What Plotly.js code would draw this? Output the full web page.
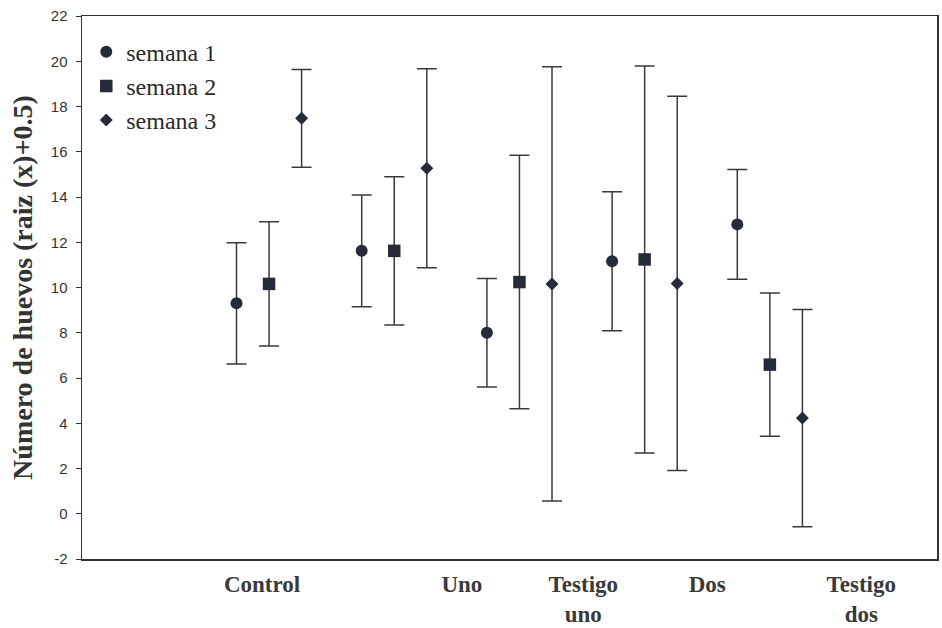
<!DOCTYPE html>
<html>
<head>
<meta charset="utf-8">
<script src="https://cdn.plot.ly/plotly-3.0.1.min.js"></script>
<style>
  html, body { margin: 0; padding: 0; background: #ffffff; }
  #chart { width: 942px; height: 628px; }
</style>
</head>
<body>
<div id="chart"></div>
<script>
// Treatments (one group of three weeks each)
const groups = [1, 2, 3, 4, 5];

// Mean number of eggs, sqrt(x)+0.5 transform, per week
const semana1 = [9.3, 11.62, 8.0, 11.16, 12.79];
const semana2 = [10.16, 11.62, 10.24, 11.24, 6.59];
const semana3 = [17.48, 15.27, 10.16, 10.18, 4.23];

// Error half-widths per week
const err1 = [2.68, 2.47, 2.4, 3.07, 2.43];
const err2 = [2.75, 3.28, 5.6, 8.55, 3.17];
const err3 = [2.16, 4.4, 9.6, 8.27, 4.8];

// Category labels along the bottom
const tickLabels = ['Control', 'Uno', 'Testigo<br>uno', 'Dos', 'Testigo<br>dos'];
const tickPositions = [0.944, 2.54, 3.51, 4.5, 5.73];

// Y axis ticks, written with a plain hyphen for negatives
const yTickValues = [-2, 0, 2, 4, 6, 8, 10, 12, 14, 16, 18, 20, 22];
const yTickText = ['-2', '0', '2', '4', '6', '8', '10', '12', '14', '16', '18', '20', '22'];

const markerColor = '#262b3a';
const barColor = '#3a3a3a';
const offset = 0.26;

function series(name, values, errs, shift, symbol, size) {
  return {
    type: 'scatter',
    mode: 'markers',
    name: name,
    x: groups.map(g => g + shift),
    y: values,
    marker: { symbol: symbol, size: size, color: markerColor },
    error_y: {
      type: 'data', array: errs, visible: true,
      color: barColor, thickness: 1.5, width: 10
    },
    cliponaxis: false
  };
}

const data = [
  series('semana 1', semana1, err1, -offset, 'circle', 12),
  series('semana 2', semana2, err2, 0, 'square', 12.5),
  series('semana 3', semana3, err3, offset, 'diamond', 10)
];

const layout = {
  width: 942,
  height: 628,
  margin: { l: 82, r: 5, t: 16, b: 69 },
  paper_bgcolor: '#ffffff',
  plot_bgcolor: '#ffffff',
  showlegend: true,
  legend: {
    x: 0.005, xanchor: 'left',
    y: 0.975, yanchor: 'top',
    bgcolor: 'rgba(0,0,0,0)',
    font: { family: 'Liberation Serif, Times New Roman, serif', size: 24, color: '#2a2a2a' },
    itemclick: false
  },
  xaxis: {
    range: [-0.494, 6.335],
    tickmode: 'array',
    tickvals: tickPositions,
    ticktext: tickLabels,
    ticks: '',
    showgrid: false,
    zeroline: false,
    showline: true,
    mirror: true,
    linecolor: '#333333',
    linewidth: 1.5,
    ticklabelstandoff: 4,
    tickfont: { family: 'Liberation Serif, Times New Roman, serif', size: 23, color: '#3a3a3a', weight: 'bold' }
  },
  yaxis: {
    range: [-2, 22],
    tickmode: 'array',
    tickvals: yTickValues,
    ticktext: yTickText,
    ticks: 'outside',
    ticklen: 5,
    tickcolor: '#333333',
    ticklabelstandoff: 5,
    showgrid: false,
    zeroline: false,
    showline: true,
    mirror: true,
    linecolor: '#333333',
    linewidth: 1.5,
    tickfont: { family: 'Liberation Sans, Arial, sans-serif', size: 15, color: '#333333' },
    title: {
      text: '<b>Número de huevos (raiz (x)+0.5)</b>',
      font: { family: 'Liberation Serif, Times New Roman, serif', size: 28, color: '#333333' },
      standoff: 10
    }
  }
};

Plotly.newPlot('chart', data, layout, { displayModeBar: false, staticPlot: true });
</script>
</body>
</html>
